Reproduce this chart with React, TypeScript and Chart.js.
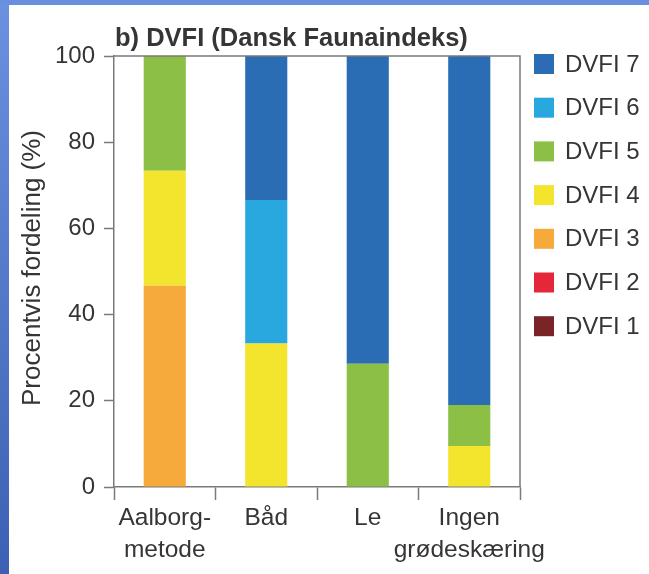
import React, { useEffect, useRef } from "react";
import { Chart, registerables } from "chart.js";

Chart.register(...registerables);

// Categories (multi-line labels) and stacked percentage shares per DVFI class
const categories: (string | string[])[] = [
  ["Aalborg-", "metode"],
  "Båd",
  "Le",
  ["Ingen", "grødeskæring"],
];

const dvfi1 = [0, 0, 0, 0];
const dvfi2 = [0, 0, 0, 0];
const dvfi3 = [46.7, 0, 0, 0];
const dvfi4 = [26.7, 33.3, 0, 9.5];
const dvfi5 = [26.6, 0, 28.6, 9.5];
const dvfi6 = [0, 33.3, 0, 0];
const dvfi7 = [0, 33.4, 71.4, 81.0];

const seriesNames = ["DVFI 1", "DVFI 2", "DVFI 3", "DVFI 4", "DVFI 5", "DVFI 6", "DVFI 7"];
const seriesColors = ["#7b2427", "#e4283a", "#f6aa3c", "#f3e42e", "#8cbf45", "#29a8e0", "#2b6db5"];
const seriesValues = [dvfi1, dvfi2, dvfi3, dvfi4, dvfi5, dvfi6, dvfi7];

const yTicks = [0, 20, 40, 60, 80, 100];

const titleText = "b) DVFI (Dansk Faunaindeks)";
const yTitleText = "Procentvis fordeling (%)";

const FONT = "'Liberation Sans', Arial, Helvetica, sans-serif";
const TEXT = "#353535";
const AXIS = "#7a7a7a";

// Frame, title, y-axis title, box lines and legend
const decorPlugin = {
  id: "decor",
  beforeDraw(chart: any) {
    const { ctx, width, height } = chart;
    ctx.save();
    ctx.fillStyle = "#ffffff";
    ctx.fillRect(0, 0, width, height);
    const g = ctx.createLinearGradient(0, 0, 0, height);
    g.addColorStop(0, "#6c91e1");
    g.addColorStop(1, "#3c60b3");
    ctx.fillStyle = g;
    ctx.fillRect(0, 0, 9, height);
    ctx.fillStyle = "#6a8fdf";
    ctx.fillRect(0, 0, width, 5);
    ctx.restore();
  },
  afterDraw(chart: any) {
    const { ctx, chartArea } = chart;
    ctx.save();
    // top and right frame lines of the plot box
    ctx.strokeStyle = AXIS;
    ctx.lineWidth = 1.5;
    ctx.beginPath();
    ctx.moveTo(chartArea.left, chartArea.top);
    ctx.lineTo(chartArea.right, chartArea.top);
    ctx.lineTo(chartArea.right, chartArea.bottom);
    ctx.stroke();

    // title
    ctx.fillStyle = TEXT;
    ctx.font = `bold 25.5px ${FONT}`;
    ctx.textAlign = "left";
    ctx.textBaseline = "alphabetic";
    ctx.fillText(titleText, 115, 46);

    // y-axis title
    ctx.save();
    ctx.translate(33, 268);
    ctx.rotate(-Math.PI / 2);
    ctx.textAlign = "center";
    ctx.textBaseline = "middle";
    ctx.font = `26px ${FONT}`;
    ctx.fillText(yTitleText, 0, 0);
    ctx.restore();

    // legend, top entry = last dataset
    const ds = chart.data.datasets;
    ctx.font = `24px ${FONT}`;
    ctx.textBaseline = "middle";
    ctx.textAlign = "left";
    for (let i = 0; i < ds.length; i++) {
      const d = ds[ds.length - 1 - i];
      const cy = 64 + i * 43.7;
      ctx.fillStyle = d.backgroundColor;
      ctx.fillRect(534, cy - 10, 20, 20);
      ctx.fillStyle = TEXT;
      ctx.fillText(d.label, 565, cy + 1);
    }
    ctx.restore();
  },
};

export default function App() {
  const ref = useRef<HTMLCanvasElement | null>(null);

  useEffect(() => {
    if (!ref.current) return;
    const chart = new Chart(ref.current, {
      type: "bar",
      data: {
        labels: categories,
        datasets: seriesNames.map((name, i) => ({
          label: name,
          data: seriesValues[i],
          backgroundColor: seriesColors[i],
          borderWidth: 0,
          categoryPercentage: 1,
          barPercentage: 0.415,
        })),
      },
      options: {
        animation: false,
        responsive: false,
        maintainAspectRatio: false,
        layout: { padding: { left: 0, top: 56, right: 129, bottom: 0 } },
        plugins: {
          legend: { display: false },
          title: { display: false },
          tooltip: { enabled: false },
        },
        scales: {
          x: {
            stacked: true,
            afterFit(scale: any) {
              scale.height = 87;
            },
            grid: {
              display: true,
              offset: true,
              drawOnChartArea: false,
              drawTicks: true,
              tickLength: 13,
              tickWidth: 1.5,
              tickColor: AXIS,
              color: AXIS,
            },
            border: { display: true, color: AXIS, width: 1.5 },
            ticks: {
              color: TEXT,
              font: { family: FONT, size: 24.5, lineHeight: 1.32 },
              padding: 2,
              maxRotation: 0,
              autoSkip: false,
            },
          },
          y: {
            stacked: true,
            min: 0,
            max: 100,
            afterFit(scale: any) {
              scale.width = 114;
            },
            afterBuildTicks(scale: any) {
              scale.ticks = yTicks.map((v) => ({ value: v }));
            },
            grid: {
              display: true,
              drawOnChartArea: false,
              drawTicks: true,
              tickLength: 10,
              tickWidth: 1.5,
              tickColor: AXIS,
              color: AXIS,
            },
            border: { display: true, color: AXIS, width: 1.5 },
            ticks: {
              color: TEXT,
              font: { family: FONT, size: 24 },
              padding: 9,
            },
          },
        },
      },
      plugins: [decorPlugin],
    });
    return () => chart.destroy();
  }, []);

  return (
    <div style={{ position: "fixed", left: 0, top: 0, width: 649, height: 574 }}>
      <canvas ref={ref} width={649} height={574} style={{ display: "block" }} />
    </div>
  );
}
